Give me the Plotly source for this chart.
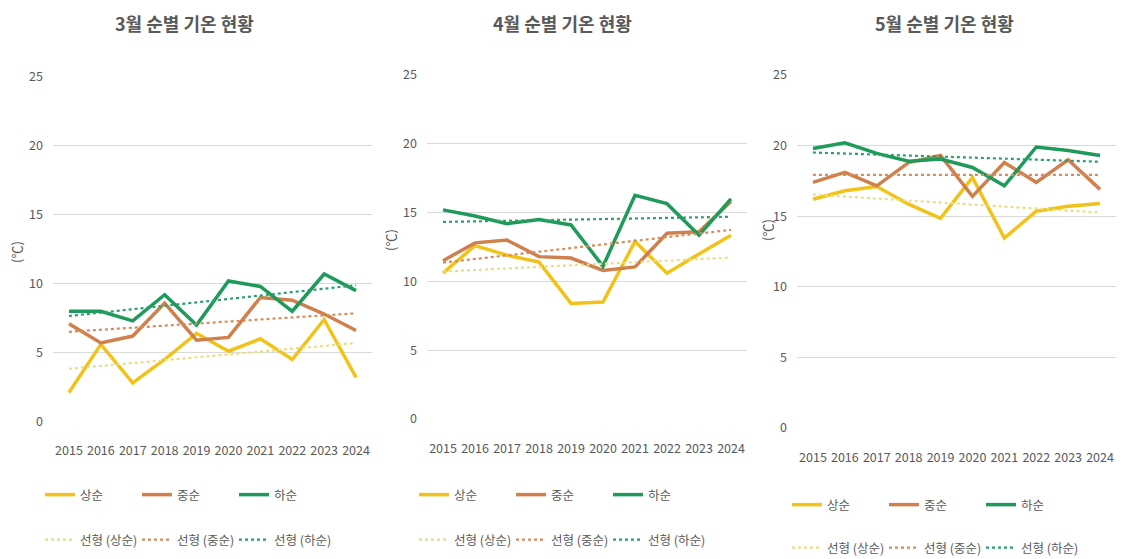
import numpy as np
import plotly.graph_objects as go

years = ["2015", "2016", "2017", "2018", "2019", "2020", "2021", "2022", "2023", "2024"]
series_names = ["상순", "중순", "하순"]

mar_early = [2.1, 5.6, 2.8, 4.5, 6.4, 5.1, 6.0, 4.5, 7.4, 3.2]
mar_mid = [7.1, 5.7, 6.2, 8.6, 5.9, 6.1, 9.0, 8.8, 7.8, 6.6]
mar_late = [8.0, 8.0, 7.3, 9.2, 7.0, 10.2, 9.8, 8.0, 10.7, 9.5]

apr_early = [10.6, 12.6, 11.9, 11.4, 8.4, 8.5, 12.9, 10.6, 12.0, 13.35]
apr_mid = [11.5, 12.8, 13.0, 11.8, 11.7, 10.8, 11.05, 13.5, 13.6, 15.8]
apr_late = [15.2, 14.75, 14.2, 14.5, 14.1, 11.1, 16.25, 15.65, 13.35, 16.0]

may_early = [16.2, 16.8, 17.1, 15.85, 14.85, 17.75, 13.45, 15.35, 15.7, 15.9]
may_mid = [17.4, 18.1, 17.15, 18.8, 19.3, 16.4, 18.8, 17.4, 19.0, 16.9]
may_late = [19.8, 20.2, 19.45, 18.9, 19.05, 18.45, 17.15, 19.9, 19.65, 19.3]

titles = ["3월 순별 기온 현황", "4월 순별 기온 현황", "5월 순별 기온 현황"]
y_ticks = [0, 5, 10, 15, 20, 25]

panels = [
    [mar_early, mar_mid, mar_late],
    [apr_early, apr_mid, apr_late],
    [may_early, may_mid, may_late],
]

W, H = 1128, 559
line_colors = ["#F0C21A", "#D0804C", "#1E9A5A"]
trend_colors = ["#E8DE86", "#D58C5C", "#2BA06C"]
FONT = "Noto Sans CJK KR"
GREY = "#595959"

# layout geometry in pixels
geo = [
    dict(x0=53, x1=372, ytop=77, ybot=421.5, title_x=184, ylab_x=17, ylab_y=252,
         leg1_y=495, leg2_y=540, leg_x=40, xstand=20),
    dict(x0=427, x1=747, ytop=75, ybot=419, title_x=562, ylab_x=390, ylab_y=240,
         leg1_y=495, leg2_y=540, leg_x=414, xstand=20),
    dict(x0=797, x1=1116, ytop=75, ybot=428, title_x=944, ylab_x=767, ylab_y=230,
         leg1_y=505, leg2_y=548, leg_x=787, xstand=20),
]

fig = go.Figure()
xi = np.arange(len(years))
annotations = []
layout_axes = {}
legends = {}

for p, (data, g) in enumerate(zip(panels, geo)):
    ax_suffix = "" if p == 0 else str(p + 1)
    xa, ya = "x" + ax_suffix, "y" + ax_suffix
    leg_a = "legend" if p == 0 else "legend" + str(2 * p + 1)
    leg_b = "legend" + str(2 * p + 2)
    for k, vals in enumerate(data):
        fig.add_trace(go.Scatter(
            x=years, y=vals, mode="lines", name=series_names[k],
            line=dict(color=line_colors[k], width=3.5),
            xaxis=xa, yaxis=ya, legend=leg_a, hoverinfo="skip"))
    for k, vals in enumerate(data):
        slope, intercept = np.polyfit(xi, np.array(vals, dtype=float), 1)
        trend = slope * xi + intercept
        fig.add_trace(go.Scatter(
            x=years, y=trend, mode="lines", name="선형 (" + series_names[k] + ")",
            line=dict(color=trend_colors[k], width=2.2, dash="dot"),
            xaxis=xa, yaxis=ya, legend=leg_b, hoverinfo="skip"))

    dom_x = [g["x0"] / W, g["x1"] / W]
    dom_y = [(H - g["ybot"]) / H, (H - g["ytop"]) / H]
    layout_axes["xaxis" + ax_suffix] = dict(
        domain=dom_x, anchor=ya, type="category", range=[-0.5, len(years) - 0.5],
        showgrid=False, zeroline=False, automargin=False,
        showline=False, ticks="", tickfont=dict(family=FONT, size=12.5, color=GREY),
        ticklabelstandoff=g["xstand"], fixedrange=True)
    layout_axes["yaxis" + ax_suffix] = dict(
        domain=dom_y, anchor=xa, range=[0, 25], tickvals=y_ticks, showgrid=True,
        gridcolor="#D9D9D9", gridwidth=1, zeroline=False, showline=False, ticks="",
        automargin=False,
        tickfont=dict(family=FONT, size=12.5, color=GREY), ticklabelstandoff=9,
        fixedrange=True)
    annotations.append(dict(
        text=titles[p], x=g["title_x"] / W, y=(H - 23) / H, xref="paper", yref="paper",
        showarrow=False, xanchor="center", yanchor="middle",
        font=dict(family=FONT, size=18, color=GREY, weight="bold")))
    annotations.append(dict(
        text="(℃)", x=g["ylab_x"] / W, y=(H - g["ylab_y"]) / H, xref="paper", yref="paper",
        showarrow=False, xanchor="center", yanchor="middle", textangle=-90,
        font=dict(family=FONT, size=13, color=GREY)))
    for leg_name, ly in ((leg_a, g["leg1_y"]), (leg_b, g["leg2_y"])):
        legends[leg_name] = dict(
            orientation="h", x=g["leg_x"] / W, y=(H - ly) / H, xanchor="left",
            yanchor="middle", xref="paper", yref="paper",
            font=dict(family=FONT, size=12.5, color=GREY), bgcolor="rgba(0,0,0,0)",
            entrywidth=52, itemwidth=30,
            tracegroupgap=0, itemclick=False, itemdoubleclick=False)

fig.update_layout(
    width=W, height=H, margin=dict(l=0, r=0, t=0, b=0, autoexpand=False),
    paper_bgcolor="white", plot_bgcolor="white", showlegend=True,
    annotations=annotations, **layout_axes, **legends)

fig.write_html("out.html", config={"displayModeBar": False},
               post_script="document.body.style.margin='0';document.body.style.overflow='hidden';")
